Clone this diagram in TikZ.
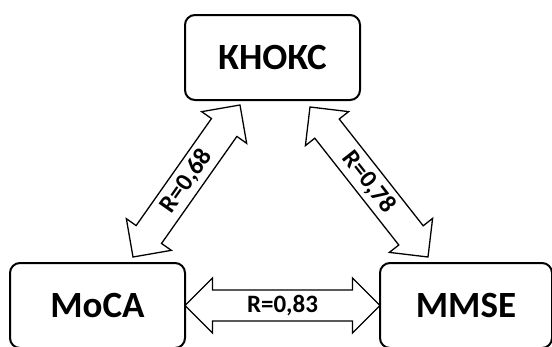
\documentclass[tikz,border=0pt]{standalone}
\usepackage{fontspec}
\setmainfont{Carlito}
\usepackage{tikz}
\newcommand{\boxwidth}{175pt}
\newcommand{\boxheight}{85pt}
\usetikzlibrary{calc,positioning,shapes.arrows}
\tikzset{
  x=1pt,y=-1pt,
  node distance=195pt,
  rect/.style={draw,line width=2pt,rounded corners=10pt,shape=rectangle,minimum width=\boxwidth,minimum height=\boxheight,inner sep=0,outer sep=0,font=\fontsize{37}{40}\selectfont\bfseries},
  dblarrow/.style={draw,line width=1.3pt,shape=double arrow,double arrow head extend=10pt,minimum width=55pt,inner sep=2pt,outer sep=0,font=\fontsize{25}{28}\selectfont\bfseries}
}
\newcommand{\linkarrow}[3]{%
  \path let \p1=($(#2)-(#1)$), \n1={atan2(\y1,\x1)}, \n2={veclen(\x1,\y1)} in
    node [dblarrow,minimum height=\n2,rotate=\n1] at ($(#1)!0.5!(#2)$) {#3};
}

\begin{document}
\begin{tikzpicture}
    \useasboundingbox (0,0) rectangle (552,346);
    \clip (0,0) rectangle (552,346);

    \node (knoks) [rect] at (272.5,57.5) {КНОКС};
    \node (moca) [rect] at (97.5,305.5) {MoCA};
    \node (mmse) [rect,right=of moca,minimum width=172pt] {MMSE};

    \coordinate (mocatip) at (133,257);
    \coordinate (knokstipl) at (240,105);
    \coordinate (knokstipr) at (310,107);
    \coordinate (mmsetip) at (428,257);

    \linkarrow{mocatip}{knokstipl}{R=0,68}
    \linkarrow{knokstipr}{mmsetip}{R=0,78}
    \linkarrow{moca.east}{mmse.west}{R=0,83}
\end{tikzpicture}
\end{document}
